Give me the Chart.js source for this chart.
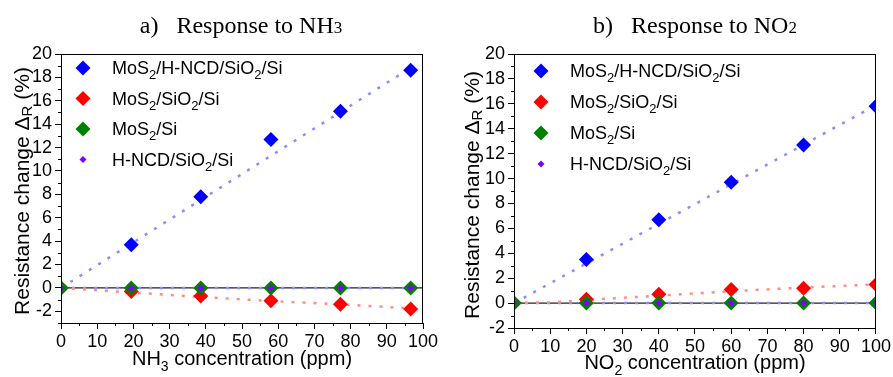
<!DOCTYPE html>
<html>
<head>
<meta charset="utf-8">
<script src="https://cdn.jsdelivr.net/npm/chart.js@4.4.0/dist/chart.umd.min.js"></script>
<style>
    html, body { margin: 0; padding: 0; background: #fff; }
    #wrap { position: relative; width: 893px; height: 377px; }
    canvas { position: absolute; top: 0; }
</style>
</head>
<body>
<div id="wrap">
    <canvas id="chartNH3" width="445" height="377" style="left:0"></canvas>
    <canvas id="chartNO2" width="448" height="377" style="left:445px"></canvas>
</div>
<script>
// "_x" = lowered subscript, "~x" = small char on the baseline
const seriesNames = ['MoS_2/H-NCD/SiO_2/Si', 'MoS_2/SiO_2/Si', 'MoS_2/Si', 'H-NCD/SiO_2/Si'];
const seriesColors = ['#0000ff', '#ff0000', '#008000', '#8000ff'];

// a) NH3
const nh3Conc = [0, 19.4, 38.6, 58.0, 77.2, 96.6];
const nh3Hybrid = [0, 3.7, 7.8, 12.7, 15.1, 18.6];
const nh3MoSiO2 = [0, -0.3, -0.7, -1.1, -1.4, -1.8];
const nh3MoSi = [0, 0, 0, 0, 0, 0];
const nh3Hncd = [0, 0, 0, 0, 0, 0];
const nh3HybridFitX = [0, 97];
const nh3HybridFitY = [0, 18.9];
const nh3MoSiO2FitX = [0, 20, 40, 60, 80, 97];
const nh3MoSiO2FitY = [0, -0.4, -0.8, -1.15, -1.45, -1.75];

// b) NO2
const no2Conc = [0, 20, 40, 60, 80, 100];
const no2Hybrid = [0, 3.5, 6.7, 9.7, 12.7, 15.8];
const no2MoSiO2 = [0, 0.3, 0.7, 1.1, 1.2, 1.5];
const no2MoSi = [0, 0, 0, 0, 0, 0];
const no2Hncd = [0, 0, 0, 0, 0, 0];
const no2HybridFitX = [0, 100];
const no2HybridFitY = [0, 15.9];
const no2MoSiO2FitX = [0, 10, 20, 40, 60, 80, 100];
const no2MoSiO2FitY = [0, 0.05, 0.25, 0.6, 0.95, 1.25, 1.5];

const zeroLineX = [0, 100];
const zeroLineY = [0, 0];

const SANS = '"Liberation Sans", Arial, sans-serif';
const SERIF = '"Liberation Serif", "Times New Roman", serif';

function pts(xs, ys) {
    return xs.map((x, i) => ({ x: x, y: ys[i] }));
}

function parseRich(str) {
    const parts = [];
    let buf = '';
    for (let i = 0; i < str.length; i++) {
        const c = str[i];
        if ((c === '_' || c === '~') && i + 1 < str.length) {
            if (buf) parts.push({ t: buf, k: 'n' });
            buf = '';
            parts.push({ t: str[i + 1], k: c === '_' ? 'sub' : 'small' });
            i++;
        } else {
            buf += c;
        }
    }
    if (buf) parts.push({ t: buf, k: 'n' });
    return parts;
}

// draws text with subscripts, anchored by align at (x, baseline y)
function drawRich(ctx, str, x, y, size, family, align, subDrop) {
    const drop = subDrop === undefined ? 0.28 : subDrop;
    const parts = parseRich(str);
    const fontOf = p => (p.k === 'n' ? size : Math.round(size * 0.72)) + 'px ' + family;
    let w = 0;
    parts.forEach(p => { ctx.font = fontOf(p); p.w = ctx.measureText(p.t).width; w += p.w; });
    let cx = align === 'center' ? x - w / 2 : x;
    ctx.textAlign = 'left';
    ctx.textBaseline = 'alphabetic';
    parts.forEach(p => {
        ctx.font = fontOf(p);
        const dy = p.k === 'sub' ? size * drop : 0;
        ctx.fillText(p.t, cx, y + dy);
        cx += p.w;
    });
}

function diamond(ctx, x, y, r, color) {
    ctx.beginPath();
    ctx.moveTo(x, y - r);
    ctx.lineTo(x + r, y);
    ctx.lineTo(x, y + r);
    ctx.lineTo(x - r, y);
    ctx.closePath();
    ctx.fillStyle = color;
    ctx.fill();
}

const decorPlugin = {
    id: 'decor',
    afterDraw(chart, args, opts) {
        const ctx = chart.ctx;
        const area = chart.chartArea;
        const xs = chart.scales.x, ys = chart.scales.y;
        ctx.save();
        ctx.fillStyle = '#000';
        ctx.strokeStyle = '#000';
        ctx.lineWidth = 1;

        // frame
        ctx.strokeRect(area.left + 0.5, area.top + 0.5, area.right - area.left - 1, area.bottom - area.top);

        // minor ticks
        ctx.beginPath();
        for (let v = xs.min + 5; v < xs.max; v += 10) {
            const px = Math.round(xs.getPixelForValue(v)) + 0.5;
            ctx.moveTo(px, area.bottom);
            ctx.lineTo(px, area.bottom + 3);
        }
        for (let v = Math.ceil(ys.min); v < ys.max; v++) {
            if (v % 2 === 0) continue;
            const py = Math.round(ys.getPixelForValue(v)) + 0.5;
            ctx.moveTo(area.left, py);
            ctx.lineTo(area.left - 3, py);
        }
        ctx.stroke();

        // titles
        ctx.fillStyle = '#000';
        drawRich(ctx, opts.title, opts.titleX, 33, 24, SERIF, 'center');
        drawRich(ctx, opts.xTitle, (area.left + area.right) / 2, opts.xTitleY, 20, SANS, 'center');
        ctx.save();
        ctx.translate(opts.yTitleX, opts.yTitleY);
        ctx.rotate(-Math.PI / 2);
        drawRich(ctx, 'Resistance change Δ_R (%)', 0, 0, 21, SANS, 'center', 0.16);
        ctx.restore();

        // legend inside plot
        seriesNames.forEach((name, i) => {
            const y = opts.legendY + i * opts.legendGap;
            diamond(ctx, opts.legendX, y, i === 3 ? 3.5 : 7.5, seriesColors[i]);
            ctx.fillStyle = '#000';
            drawRich(ctx, name, opts.legendX + 29, y + 6, 18, SANS, 'left');
        });
        ctx.restore();
    }
};

function createChart(canvasId, conc, hybrid, moSiO2, moSi, hncd, hybridFit, moSiO2Fit, yMin, axisW, axisH, decor) {
    const fitStyle = color => ({
        type: 'line', showLine: true, pointRadius: 0, borderColor: color,
        borderWidth: 2.5, borderDash: [3, 8], fill: false
    });
    const marks = (data, color, r, order) => ({
        type: 'scatter', data: data, pointStyle: 'rectRot', pointRadius: r,
        pointHoverRadius: r, backgroundColor: color, borderColor: color,
        borderWidth: 0, order: order
    });
    return new Chart(document.getElementById(canvasId), {
        type: 'scatter',
        data: {
            datasets: [
                marks(pts(conc, hncd), seriesColors[3], 3.5, 0),
                marks(pts(conc, moSi), seriesColors[2], 7.5, 1),
                marks(pts(conc, moSiO2), seriesColors[1], 7.5, 2),
                marks(pts(conc, hybrid), seriesColors[0], 7.5, 3),
                Object.assign(fitStyle('#8c8cff'), { data: hybridFit, order: 5 }),
                Object.assign(fitStyle('#ff8c8c'), { data: moSiO2Fit, order: 6 }),
                Object.assign(fitStyle('#8c8cff'), { data: pts(zeroLineX, zeroLineY), order: 7 }),
                {
                    type: 'line', data: pts(zeroLineX, zeroLineY), showLine: true,
                    pointRadius: 0, borderColor: '#222', borderWidth: 1.3, order: 8
                }
            ]
        },
        options: {
            responsive: false,
            animation: false,
            layout: { autoPadding: false, padding: { left: 0, top: 54, right: decor.padRight, bottom: 0 } },
            plugins: {
                legend: { display: false },
                tooltip: { enabled: false },
                decor: decor
            },
            scales: {
                x: {
                    type: 'linear', min: 0, max: 100,
                    afterFit: s => { s.height = axisH; },
                    ticks: { stepSize: 10, autoSkip: false, color: '#000', padding: 2, maxRotation: 0, font: { family: SANS, size: 18 } },
                    grid: { drawOnChartArea: false, tickLength: 6, color: '#000' },
                    border: { color: '#000' }
                },
                y: {
                    type: 'linear', min: yMin, max: 20,
                    afterFit: s => { s.width = axisW; },
                    ticks: { stepSize: 2, autoSkip: false, includeBounds: false, color: '#000', padding: 3, font: { family: SANS, size: 18 } },
                    grid: { drawOnChartArea: false, tickLength: 6, color: '#000' },
                    border: { color: '#000' }
                }
            }
        },
        plugins: [decorPlugin]
    });
}

createChart('chartNH3', nh3Conc, nh3Hybrid, nh3MoSiO2, nh3MoSi, nh3Hncd,
    pts(nh3HybridFitX, nh3HybridFitY), pts(nh3MoSiO2FitX, nh3MoSiO2FitY), -3, 61, 54,
    { title: 'a)   Response to NH~3', titleX: 241, xTitle: 'NH_3 concentration (ppm)', xTitleY: 365,
      yTitleX: 29, yTitleY: 191, legendX: 83, legendY: 68, legendGap: 30.5, padRight: 22 });

createChart('chartNO2', no2Conc, no2Hybrid, no2MoSiO2, no2MoSi, no2Hncd,
    pts(no2HybridFitX, no2HybridFitY), pts(no2MoSiO2FitX, no2MoSiO2FitY), -2, 69, 49,
    { title: 'b)   Response to NO~2', titleX: 250, xTitle: 'NO_2 concentration (ppm)', xTitleY: 369,
      yTitleX: 34, yTitleY: 195, legendX: 96, legendY: 71, legendGap: 31, padRight: 16 });
</script>
</body>
</html>
